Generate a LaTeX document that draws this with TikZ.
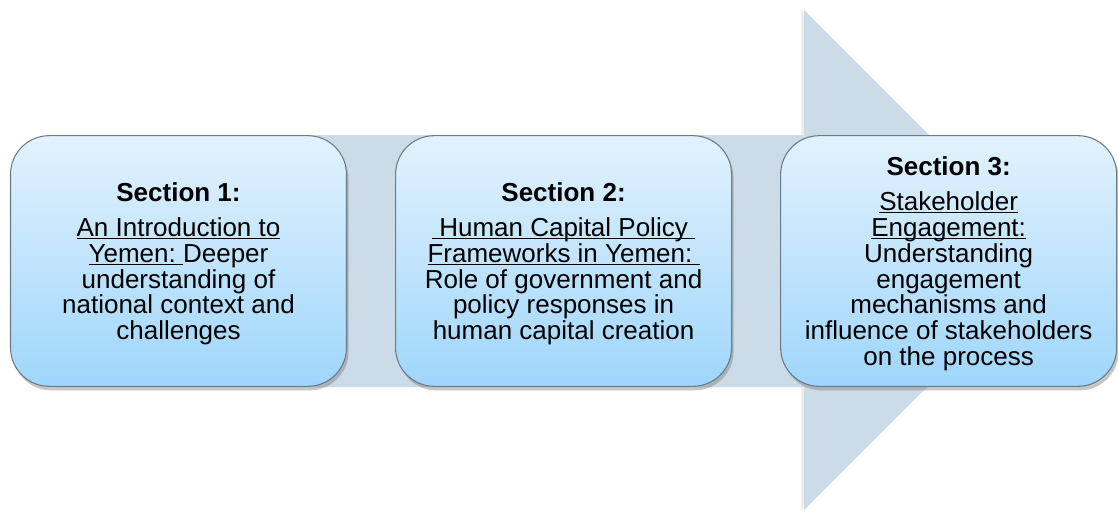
\documentclass[tikz,border=0pt]{standalone}
\usepackage{fontspec}
\setmainfont{Liberation Sans}
\definecolor{pfeilgrau}{HTML}{CCDBE8}
\definecolor{boxoben}{HTML}{E2F2FD}
\definecolor{boxunten}{HTML}{9FD6FB}
\definecolor{rahmen}{HTML}{6A7A88}
\usetikzlibrary{positioning, shadows}
\newsavebox{\ulbox}
\newcommand{\undl}[1]{\sbox{\ulbox}{#1}\rlap{\rule[-0.11em]{\wd\ulbox}{0.055em}}\usebox{\ulbox}}
\newcommand{\topgap}{\rule{0pt}{18.5pt}}

\begin{document}
\begin{tikzpicture}[
    x=0.75pt, y=-0.75pt,
    node distance=10mm and 36pt,
    secbox/.style={rectangle, rounded corners=29pt, draw=rahmen, line width=0.8pt,
                top color=boxoben, bottom color=boxunten,
                minimum width=252pt, minimum height=188pt,
                text centered, align=center,
                font=\fontsize{19.5}{19.4}\selectfont,
                drop shadow={shadow xshift=1.5pt, shadow yshift=-3pt, opacity=0.45}},
    pfeil/.style={fill=pfeilgrau, draw=none,
                drop shadow={shadow xshift=-2pt, shadow yshift=0pt, opacity=0.15}}
  ]
  \useasboundingbox (0,0) rectangle (1118,511);
  % grosser Pfeil im Hintergrund
  \fill[pfeil] (60,135) -- (804,135) -- (804,10) -- (1054,260)
    -- (804,510) -- (804,387) -- (60,387) -- cycle;

  \node[secbox] (sec1) at (178.5,261)
    {\topgap\textbf{Section 1:}\\[6.75pt]
     \undl{An Introduction to}\\
     \undl{Yemen:\ }Deeper\\
     understanding of\\
     national context and\\
     challenges};
  \node[secbox, right=of sec1] (sec2)
    {\topgap\textbf{Section 2:}\\[6.75pt]
     \undl{\ Human Capital Policy\ }\\
     \undl{Frameworks in Yemen:\ }\\
     Role of government and\\
     policy responses in\\
     human capital creation};
  \node[secbox, right=of sec2] (sec3)
    {\topgap\textbf{Section 3:}\\[6.75pt]
     \undl{Stakeholder}\\
     \undl{Engagement:}\\
     Understanding\\
     engagement\\
     mechanisms and\\
     influence of stakeholders\\
     on the process};
\end{tikzpicture}
\end{document}
